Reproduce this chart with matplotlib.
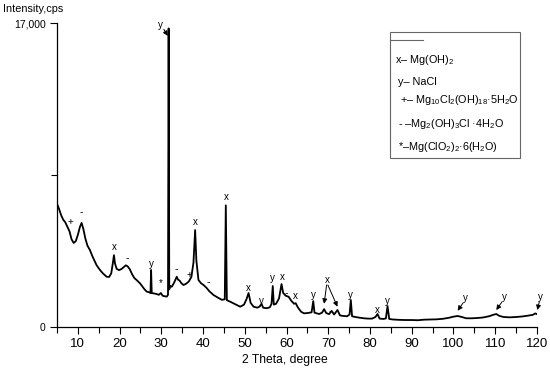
import matplotlib
matplotlib.use('Agg')
import matplotlib.pyplot as plt
from matplotlib.patches import Rectangle
from matplotlib.lines import Line2D

# Fonts: Arial-like text, subscripts through mathtext
plt.rcParams['font.family'] = ['Liberation Sans', 'DejaVu Sans']
plt.rcParams['mathtext.fontset'] = 'custom'
plt.rcParams['mathtext.rm'] = 'Liberation Sans'
plt.rcParams['mathtext.it'] = 'Liberation Sans:italic'

# XRD pattern (2 theta in degrees, intensity in cps)
two_theta = [5.0, 5.5, 6.0, 6.5, 7.0, 7.5, 8.0, 8.5, 9.0, 9.5,
             10.0, 10.5, 10.9, 11.3, 11.8, 12.3, 12.9, 13.5, 14.0, 14.5,
             15.3, 16.0, 16.9, 17.5, 18.0, 18.4, 18.65, 18.9, 19.3, 19.9,
             20.5, 21.0, 21.5, 21.9, 22.4, 23.0, 23.5, 24.2, 24.9, 25.5,
             26.0, 26.5, 27.0, 27.4, 27.55, 27.7, 28.2, 28.8, 29.4, 29.9,
             30.3, 30.8, 31.3, 31.6, 31.75, 31.9, 32.1, 32.5, 33.0, 33.5,
             33.7, 34.0, 34.4, 34.8, 35.3, 35.8, 36.1, 36.6, 37.2, 37.7,
             38.1, 38.4, 38.9, 39.5, 40.1, 40.8, 41.5, 42.5, 43.5, 44.5,
             45.2, 45.45, 45.7, 46.5, 47.5, 48.9, 49.8, 50.4, 50.9, 51.4,
             52.1, 53.0, 53.6, 54.0, 54.4, 55.2, 56.0, 56.4, 56.7, 56.95,
             57.5, 58.2, 58.8, 59.2, 59.8, 60.5, 61.2, 61.8, 62.2, 62.7,
             63.5, 64.2, 65.0, 66.0, 66.4, 66.7, 67.8, 68.5, 69.0, 69.5,
             70.2, 70.8, 71.4, 72.2, 72.8, 73.5, 74.5, 75.1, 75.4, 75.7,
             76.5, 77.5, 78.6, 79.5, 80.5, 81.3, 81.8, 82.3, 83.2, 83.8,
             84.2, 84.6, 85.5, 87.0, 88.5, 90.0, 91.5, 93.0, 94.5, 96.0,
             97.5, 99.0, 100.0, 101.0, 102.0, 103.0, 104.2, 105.5, 107.0, 108.5,
             109.5, 110.25, 111.0, 112.0, 113.5, 115.0, 116.5, 118.0, 119.0, 119.6,
             120.0]
intensity = [6900, 6600, 6250, 6000, 5850, 5600, 5350, 4900, 4700, 4800,
             5150, 5600, 5820, 5500, 4950, 4550, 4300, 3950, 3700, 3450,
             3190, 3000, 2810, 2800, 3000, 3600, 4020, 3550, 3250, 3180,
             3250, 3350, 3450, 3400, 3250, 2950, 2750, 2600, 2440, 2250,
             2100, 1980, 1950, 1900, 3190, 1900, 1880, 1850, 1800, 1900,
             1750, 1720, 1700, 1800, 16700, 2100, 2300, 2250, 2450, 2700,
             2810, 2650, 2590, 2450, 2350, 2400, 2450, 2550, 2800, 3600,
             5420, 3700, 2630, 2450, 2350, 2200, 2000, 1790, 1650, 1520,
             1550, 6800, 1500, 1415, 1300, 1135, 1250, 1550, 1900, 1350,
             1135, 1080, 1150, 1300, 1080, 1050, 1100, 1300, 2290, 1250,
             1300, 1600, 2400, 1900, 1750, 1690, 1450, 1300, 1330, 1100,
             850, 765, 780, 820, 1450, 800, 727, 800, 1000, 780,
             720, 900, 700, 950, 650, 620, 600, 700, 1510, 600,
             560, 520, 486, 470, 470, 560, 727, 470, 450, 480,
             1170, 450, 420, 400, 390, 390, 380, 410, 420, 430,
             460, 520, 580, 615, 560, 490, 486, 500, 530, 600,
             680, 727, 620, 560, 540, 560, 590, 640, 680, 760,
             720]

# Phase marks over the peaks: symbol, 2 theta, intensity
mark_text = ['+', '-', 'x', '-', 'y', '*', '-', '+', 'x', '-', 'x', 'x',
             'y', 'y', 'x', '-', 'x', 'y', '-', 'y', 'x', 'y',
             'y', 'x', 'y', 'y', 'y']
mark_x = [8.1, 10.9, 18.65, 21.9, 27.55, 29.9, 33.6, 36.8, 38.1, 41.3, 45.6, 50.9,
          54.0, 56.7, 59.0, 60.0, 62.2, 66.5, 70.6, 75.4, 81.8, 84.2,
          29.7, 69.8, 102.9, 112.1, 120.9]
mark_y = [5870, 6430, 4470, 3860, 3520, 2440, 3240, 2900, 5890, 2530, 7270, 2180,
          1450, 2720, 2780, 1900, 1730, 1800, 910, 1800, 950, 1470,
          16900, 2620, 1600, 1690, 1690]

# Arrows from the marks down to the peaks
arrow_from = [(30.6, 16650), (69.6, 2350), (69.9, 2350), (102.3, 1350), (111.6, 1400), (120.55, 1400)]
arrow_to = [(31.55, 16280), (69.0, 1300), (72.2, 1135), (101.0, 910), (110.25, 950), (120.1, 950)]

legend_lines = [r'x– Mg(OH)$\mathregular{_2}$',
                r'y– NaCl',
                r'+– Mg$\mathregular{_{10}}$Cl$\mathregular{_2}$(OH)$\mathregular{_{18}}$·5H$\mathregular{_2}$O',
                r'- –Mg$\mathregular{_2}$(OH)$\mathregular{_3}$Cl ·4H$\mathregular{_2}$O',
                r'*–Mg(ClO$\mathregular{_2}$)$\mathregular{_2}$·6(H$\mathregular{_2}$O)']

fig = plt.figure(figsize=(5.5, 3.7), dpi=100)
ax = fig.add_axes([0.1036, 0.1162, 0.8727, 0.8216])
ax.plot(two_theta, intensity, color='black', lw=1.3)

ax.set_xlim(5, 120)
ax.set_ylim(0, 17000)
ax.spines['top'].set_visible(False)
ax.spines['right'].set_visible(False)
ax.spines['left'].set_linewidth(0.9)
ax.spines['bottom'].set_linewidth(0.9)

ax.set_xticks(range(10, 121, 10))
ax.set_xticks(range(5, 120, 10), minor=True)
ax.set_yticks([0, 17000])
ax.set_yticklabels(['0', '17,000'])
ax.set_yticks([8500], minor=True)
ax.tick_params(axis='x', which='major', direction='out', length=5, width=0.8, labelsize=9.5, pad=3)
ax.tick_params(axis='x', which='minor', direction='out', length=4, width=0.8)
ax.tick_params(axis='y', which='major', direction='out', length=5, width=0.8, labelsize=7.5, pad=3)
ax.tick_params(axis='y', which='minor', direction='out', length=4, width=0.8)

# Peak marks
for t, x, y in zip(mark_text, mark_x, mark_y):
    ax.text(x, y, t, fontsize=7.5 if t == '-' else 7, ha='center', va='center', clip_on=False)

for p0, p1 in zip(arrow_from, arrow_to):
    ax.annotate('', xy=p1, xytext=p0, annotation_clip=False,
                arrowprops=dict(arrowstyle='-|>', color='black', lw=0.7,
                                mutation_scale=7, shrinkA=0, shrinkB=0))

# Axis titles
fig.text(3 / 550, 1 - 9 / 370, 'Intensity,cps', fontsize=7.8, ha='left', va='center')
fig.text(285 / 550, 1 - 360 / 370, '2 Theta, degree', fontsize=8.7, ha='center', va='center')

# Legend box drawn by hand
fig.patches.append(Rectangle((390 / 550, 1 - 158 / 370), 130 / 550, 126 / 370,
                             transform=fig.transFigure, fill=False, lw=0.8, edgecolor='#666666'))
fig.lines.append(Line2D([390 / 550, 423 / 550], [1 - 40 / 370, 1 - 40 / 370],
                        transform=fig.transFigure, color='#666666', lw=0.8))
leg_x = [395, 398, 400, 398, 398]
leg_y = [60, 82, 100, 124, 147]
for t, x, y in zip(legend_lines, leg_x, leg_y):
    fig.text(x / 550, 1 - y / 370, t, fontsize=7.8, ha='left', va='center')

fig.savefig('out.png', dpi=100)
